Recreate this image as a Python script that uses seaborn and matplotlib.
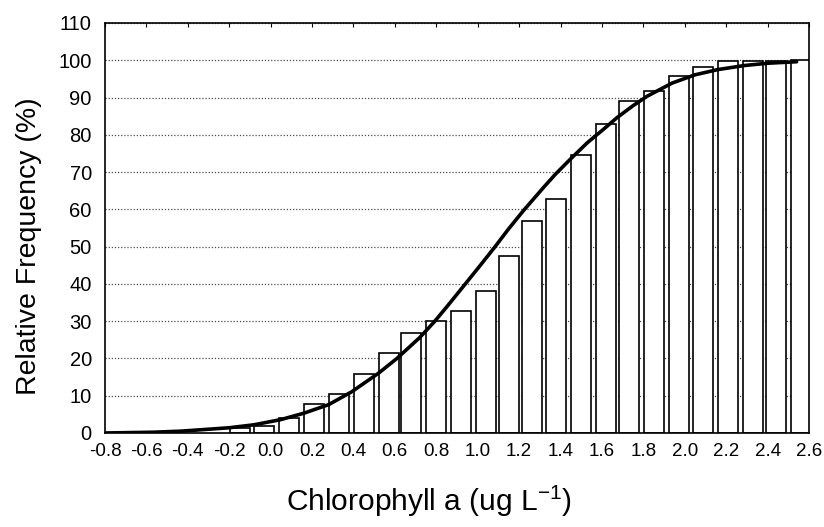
import matplotlib
matplotlib.use('Agg')
import matplotlib.pyplot as plt
import seaborn as sns

# histogram bars: class midpoints (ug/L, log scale) and cumulative relative frequency (%)
bar_x = [-0.15, -0.03, 0.09, 0.21, 0.33, 0.45, 0.57, 0.68, 0.80, 0.92, 1.04, 1.15,
         1.26, 1.38, 1.50, 1.62, 1.73, 1.85, 1.97, 2.09, 2.21, 2.33, 2.44, 2.56]
bar_y = [1.3, 1.9, 3.9, 7.7, 10.4, 15.9, 21.4, 26.8, 30.0, 32.8, 38.1, 47.6,
         56.9, 62.8, 74.7, 82.8, 89.1, 91.8, 95.7, 98.2, 99.8, 99.9, 99.8, 100.0]

# fitted cumulative curve
curve_x = [-0.80, -0.57, -0.43, -0.20, -0.08, 0.05, 0.16, 0.28, 0.39, 0.52, 0.61,
           0.72, 0.79, 0.85, 0.92, 1.01, 1.08, 1.15, 1.22, 1.32, 1.375, 1.45, 1.53,
           1.61, 1.675, 1.75, 1.82, 1.94, 2.05, 2.16, 2.29, 2.40, 2.54]
curve_y = [0.0, 0.2, 0.5, 1.4, 2.2, 3.6, 5.3, 7.6, 11.0, 16.0, 20.0,
           25.6, 29.8, 33.8, 38.6, 44.8, 49.7, 54.8, 59.6, 66.0, 69.4, 73.6, 77.9,
           81.6, 84.7, 87.8, 90.4, 93.9, 96.1, 97.5, 98.6, 99.2, 99.6]

x_ticks = [-0.8, -0.6, -0.4, -0.2, 0.0, 0.2, 0.4, 0.6, 0.8, 1.0, 1.2, 1.4,
           1.6, 1.8, 2.0, 2.2, 2.4, 2.6]
y_ticks = list(range(0, 111, 10))

sns.set_style('ticks')
plt.rcParams['font.family'] = ['Liberation Sans', 'DejaVu Sans']
plt.rcParams['axes.unicode_minus'] = False
plt.rcParams['mathtext.default'] = 'regular'
plt.rcParams['text.color'] = 'black'
plt.rcParams['xtick.color'] = 'black'
plt.rcParams['ytick.color'] = 'black'
plt.rcParams['axes.labelcolor'] = 'black'

fig = plt.figure(figsize=(8.24, 5.27), dpi=100)
ax = fig.add_axes([0.1274, 0.1784, 0.8544, 0.778])

sns.barplot(x=bar_x, y=bar_y, native_scale=True, width=0.88, color='white',
            saturation=1, edgecolor='black', linewidth=1.2, errorbar=None, ax=ax)
sns.lineplot(x=curve_x, y=curve_y, color='black', linewidth=2.6, ax=ax)

ax.set_xlim(-0.8, 2.6)
ax.set_ylim(0, 110)
ax.set_xticks(x_ticks)
ax.set_xticklabels([f'{v:.1f}' for v in x_ticks])
ax.set_yticks(y_ticks)
ax.tick_params(axis='x', bottom=False, top=True, direction='in', length=3,
               labelsize=13.5, pad=7, labelbottom=True, labelcolor='black')
ax.tick_params(axis='y', left=False, labelsize=14.5, pad=6, labelcolor='black')

ax.set_axisbelow(True)
ax.yaxis.grid(True, linestyle=(0, (1, 1.5)), color='0.3', linewidth=0.9)
for s in ax.spines.values():
    s.set_visible(True)
    s.set_color('black')
    s.set_linewidth(1.2)

ax.set_ylabel('Relative Frequency (%)', fontsize=20.5)
ax.set_xlabel('Chlorophyll a (ug L$^{-1}$)', fontsize=21.5)
ax.yaxis.set_label_coords(-0.09, 0.455)
ax.xaxis.set_label_coords(0.46, -0.125)

fig.savefig('out.png', dpi=100)
